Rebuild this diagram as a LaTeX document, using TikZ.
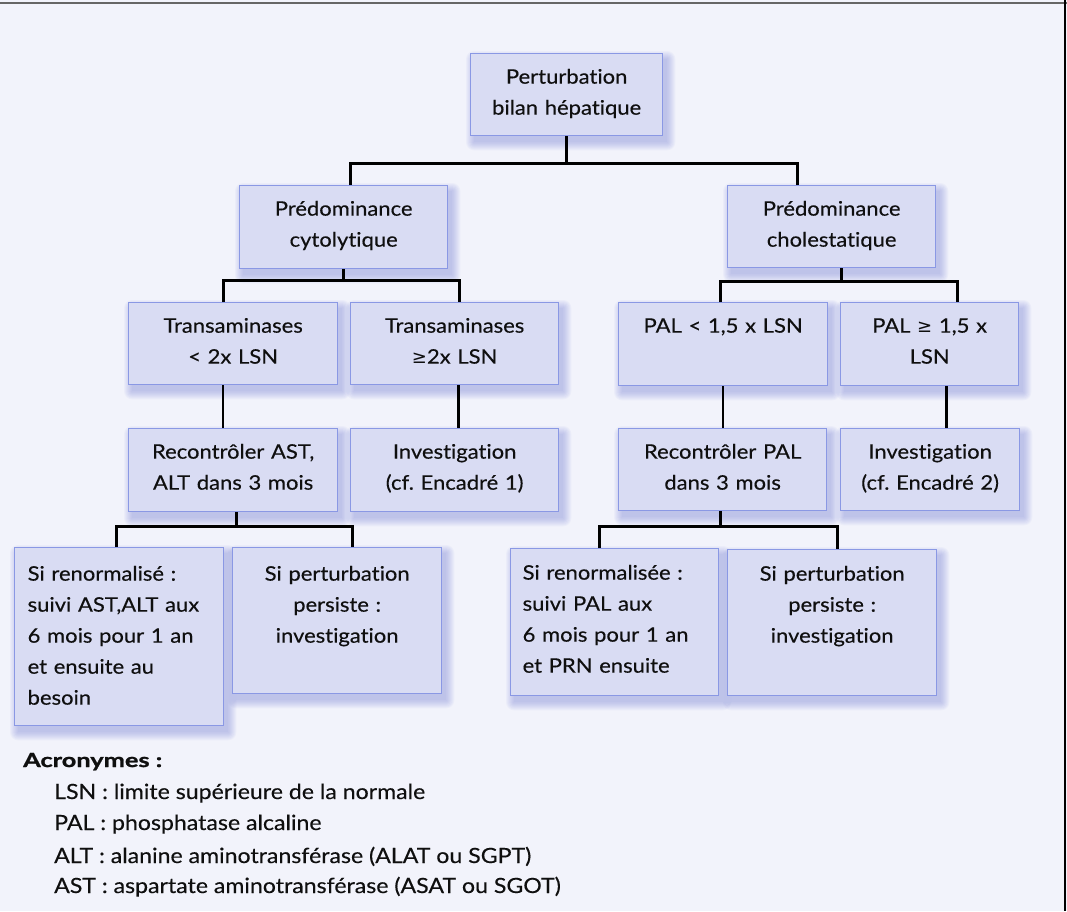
\documentclass[tikz,border=0pt]{standalone}
\usepackage{fontspec}
\setmainfont{Lato}[FakeStretch=1.1, FakeBold=0.3, Ligatures=NoCommon]
\newfontfamily\titlefont{Lato}[FakeStretch=1.3, FakeBold=1.2, Ligatures=NoCommon]
\newfontfamily\symf{DejaVu Sans}[Scale=0.9]
\usetikzlibrary{calc}
\pgfdeclarelayer{background}
\pgfsetlayers{background,main}
\definecolor{bg}{RGB}{242,243,251}
\definecolor{boxfill}{RGB}{217,220,243}
\definecolor{boxline}{RGB}{138,152,228}
\definecolor{shc}{RGB}{115,125,215}
\definecolor{txt}{RGB}{15,15,15}
\newcommand\boxfont{\fontsize{20}{31}\selectfont}
\newcommand\acrfont{\fontsize{21}{24}\selectfont}
\newcommand\gesym{{\symf ≥}}
\frenchspacing
\tikzset{
  box/.style={draw=boxline, fill=boxfill, line width=1.3pt, inner ysep=0pt, text=txt, font=\boxfont},
  conn/.style={draw=black, line width=2.6pt, line join=miter},
  acr/.style={anchor=base west, inner sep=0pt, text=txt, font=\acrfont},
}
\newcommand\mkbox[9]{%
  \pgfmathsetmacro\bxw{#6-#4-2*#3}%
  \pgfmathsetmacro\bxh{#8-#5}%
  \pgfmathsetmacro\bxd{#7-#8}%
  \node[box, align=#2, inner xsep=#3pt, text width=\bxw pt, text height=\bxh pt, text depth=\bxd pt, anchor=north west] (#1) at (#4,#5) {#9};
  \begin{pgfonlayer}{background}
    \foreach \e in {0,...,8}{\fill[shc, opacity=0.05, rounded corners=\e pt] ([shift={(4-\e,6-\e)}]#1.north west) rectangle ([shift={(4+\e,6+\e)}]#1.south east);}
  \end{pgfonlayer}}
\begin{document}
\begin{tikzpicture}[x=1pt,y=-1pt]
\useasboundingbox (0,0) rectangle (1067,911);
\begin{pgfonlayer}{background}
  \fill[bg] (0,0) rectangle (1067,911);
\end{pgfonlayer}
\draw[gray!80!black, line width=2pt] (0,3) -- (1067,3);
\draw[black, line width=2pt] (1065,0) -- (1065,911);

% level 0
\mkbox{root}{center}{6}{470}{53}{662}{135}{83}{Perturbation\\bilan hépatique}
% level 1
\mkbox{Ia}{center}{6}{239}{185}{447}{268}{215}{Prédominance\\cytolytique}
\mkbox{Ib}{center}{6}{727}{185}{935}{267}{215}{Prédominance\\cholestatique}
% level 2
\mkbox{IIa}{center}{6}{128}{302}{337}{384}{332}{Transaminases\\< 2x LSN}
\mkbox{IIb}{center}{6}{350}{302}{558}{384}{332}{Transaminases\\\gesym2x LSN}
\mkbox{IIc}{center}{6}{618}{302}{827}{385}{332}{PAL < 1,5 x LSN}
\mkbox{IId}{center}{6}{840}{302}{1018}{385}{332}{PAL \gesym{} 1,5 x\\LSN}
% level 3
\mkbox{IIIa}{center}{6}{128}{428}{337}{511}{458}{Recontrôler AST,\\ALT dans 3 mois}
\mkbox{IIIb}{center}{6}{350}{428}{558}{511}{458}{Investigation\\(cf. Encadré 1)}
\mkbox{IIIc}{center}{6}{618}{428}{826}{510}{458}{Recontrôler PAL\\dans 3 mois}
\mkbox{IIId}{center}{6}{840}{428}{1019}{510}{458}{Investigation\\(cf. Encadré 2)}
% level 4
\mkbox{IVa}{left}{13}{14}{547}{223}{725}{580}{Si renormalisé :\\suivi AST,ALT aux\\6 mois pour 1 an\\et ensuite au\\besoin}
\mkbox{IVb}{center}{6}{232}{547}{441}{693}{580}{Si perturbation\\persiste :\\investigation}
\mkbox{IVc}{left}{12}{510}{548}{718}{695}{579}{Si renormalisée :\\suivi PAL aux\\6 mois pour 1 an\\et PRN ensuite}
\mkbox{IVd}{center}{6}{727}{549}{936}{695}{580}{Si perturbation\\persiste :\\investigation}

% connectors
\coordinate (b1) at ($(root.south)+(0,27)$);
\draw[conn] (root.south) -- (b1);
\draw[conn] ([xshift=7pt]Ia.north) |- (b1) -| ([xshift=-34pt]Ib.north);

\coordinate (b2) at ($(Ia.south)+(0,11)$);
\draw[conn] (Ia.south) -- (b2);
\draw[conn] ([xshift=-9.5pt]IIa.north) |- (b2) -| ([xshift=5pt]IIb.north);

\coordinate (b3) at ($([xshift=10pt]Ib.south)+(0,13)$);
\draw[conn] ([xshift=10pt]Ib.south) -- (b3);
\draw[conn] ([xshift=-2.5pt]IIc.north) |- (b3) -| ([xshift=28pt]IId.north);

\draw[conn] ([xshift=-10pt]IIa.south) -- ([xshift=-10pt]IIIa.north);
\draw[conn] ([xshift=4pt]IIb.south) -- ([xshift=4pt]IIIb.north);
\draw[conn] (IIc.south) -- ([xshift=0.5pt]IIIc.north);
\draw[conn] ([xshift=17pt]IId.south) -- ([xshift=16.5pt]IIId.north);

\coordinate (b4) at ($([xshift=3.5pt]IIIa.south)+(0,14)$);
\draw[conn] ([xshift=3.5pt]IIIa.south) -- (b4);
\draw[conn] ([xshift=-2.5pt]IVa.north) |- (b4) -| ([xshift=15.5pt]IVb.north);

\coordinate (b5) at ($([xshift=-2pt]IIIc.south)+(0,15)$);
\draw[conn] ([xshift=-2pt]IIIc.south) -- (b5);
\draw[conn] ([xshift=-15pt]IVc.north) |- (b5) -| ([xshift=5.5pt]IVd.north);

% acronyms
\node[acr, font=\titlefont\fontsize{19.5}{22}\selectfont\bfseries] (acrt) at (23,767) {Acronymes :};
\node[acr] (l1) at (54,799) {LSN : limite supérieure de la normale};
\node[acr] (l2) at (54,830) {PAL : phosphatase alcaline};
\node[acr] (l3) at (54,863) {ALT : alanine aminotransférase (ALAT ou SGPT)};
\node[acr] (l4) at (54,893) {AST : aspartate aminotransférase (ASAT ou SGOT)};
\end{tikzpicture}
\end{document}
